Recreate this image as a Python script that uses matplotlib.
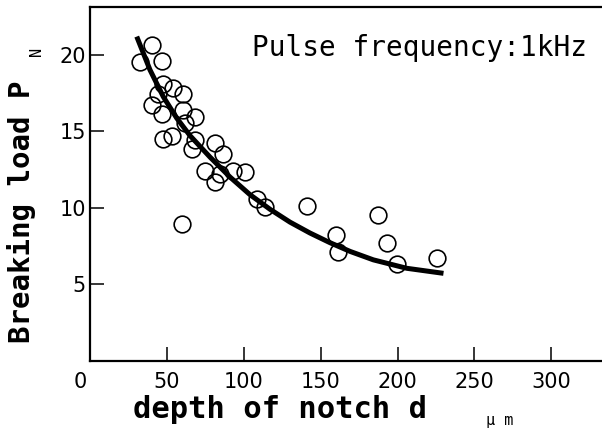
from matplotlib import pyplot as plt
from matplotlib.transforms import ScaledTranslation

# measured points (depth of notch in um, breaking load in N)
depth = [32.5, 40.1, 47, 47.7, 54.2, 44.4, 60.7, 40.1, 46.6, 60.7, 68.3, 61.8,
         53.1, 47.2, 68.3, 81.3, 66.2, 86.7, 74.8, 84.6, 93, 100.8, 81.3, 59.6,
         108.4, 113.9, 141.4, 160, 161, 187.6, 193, 199.5, 225.5]
load = [19.5, 20.6, 19.6, 18.1, 17.8, 17.4, 17.4, 16.7, 16.15, 16.4, 15.9, 15.5,
        14.7, 14.5, 14.4, 14.2, 13.85, 13.5, 12.4, 12.2, 12.4, 12.35, 11.7, 8.95,
        10.6, 10.05, 10.1, 8.2, 7.1, 9.5, 7.7, 6.33, 6.7]

# fitted curve
curve_d = [30.4, 39, 47.7, 56.4, 65.1, 78.1, 91.1, 104.1, 117.1, 130.1, 143.1,
           156.1, 169.2, 184.3, 206, 229.9]
curve_p = [21.17, 19.0, 17.24, 15.85, 14.7, 13.3, 12.0, 10.85, 9.9, 9.06, 8.35,
           7.72, 7.15, 6.6, 6.05, 5.72]

x_ticks = [0, 50, 100, 150, 200, 250, 300]
y_ticks = [5, 10, 15, 20]

mono = 'DejaVu Sans Mono'

fig = plt.figure(figsize=(6.02, 4.34), dpi=100)
ax = fig.add_axes([90 / 602, 1 - 361 / 434, 1 - 90 / 602, (361 - 7) / 434])

ax.plot(curve_d, curve_p, color='black', linewidth=3.6, solid_capstyle='butt')
ax.plot(depth, load, linestyle='none', marker='o', markersize=12,
        markerfacecolor='none', markeredgecolor='black', markeredgewidth=1.2)

ax.set_xlim(0, 333)
ax.set_ylim(0, 23.1)
ax.spines['right'].set_visible(False)
for s in ['left', 'bottom', 'top']:
    ax.spines[s].set_linewidth(1.6)

ax.set_xticks(x_ticks)
ax.set_yticks(y_ticks)
ax.tick_params(direction='in', length=10, width=1.1, labelsize=15)
ax.tick_params(axis='x', pad=8)
ax.tick_params(axis='y', pad=3)
# zero label sits left of the corner
zero = ax.get_xticklabels()[0]
zero.set_transform(zero.get_transform() + ScaledTranslation(-0.1, 0, fig.dpi_scale_trans))

# axis labels
fig.text(133 / 602, 1 - 410 / 434, 'depth of notch d', family=mono, fontsize=22,
         fontweight='bold', ha='left', va='center')
fig.text(500 / 602, 1 - 420 / 434, 'μ m', family=mono, fontsize=11,
         ha='center', va='center')
fig.text(22 / 602, 1 - 212 / 434, 'Breaking load P', family=mono, fontsize=21,
         fontweight='bold', rotation=90, ha='center', va='center')
fig.text(37 / 602, 1 - 51 / 434, 'N', family=mono, fontsize=11,
         rotation=90, ha='center', va='center')

ax.text(0.97, 0.885, 'Pulse frequency:1kHz', transform=ax.transAxes, family=mono,
        fontsize=20, ha='right', va='center')

fig.savefig('out.png', dpi=100)
